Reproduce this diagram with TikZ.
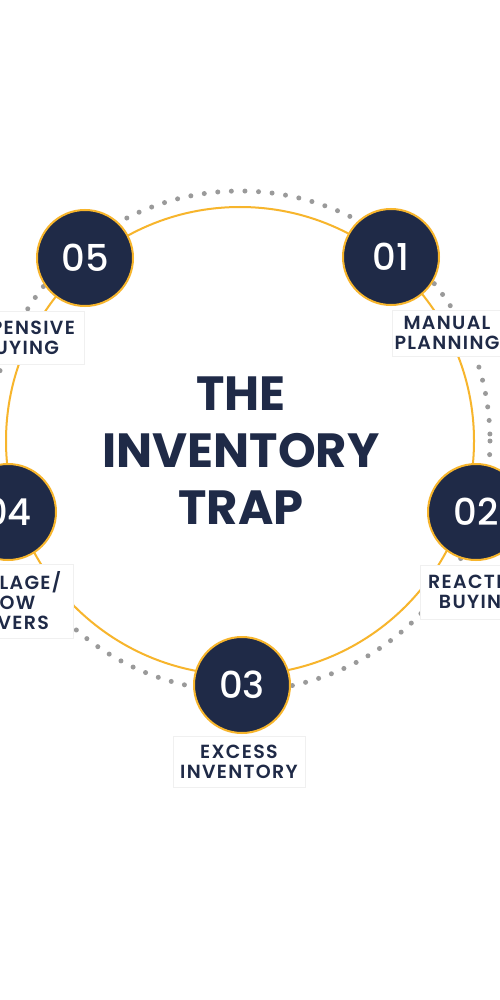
\documentclass[tikz,border=0pt]{standalone}
\usepackage{fontspec}
\setmainfont{Poppins}
\newfontfamily\pmed{Poppins Medium}
\newfontfamily\plbl{Poppins SemiBold}[LetterSpace=7]
\newfontfamily\pbold{Poppins Bold}
\definecolor{navy}{HTML}{1F2A47}
\definecolor{gold}{HTML}{F7B52C}
\definecolor{dotgray}{HTML}{9A9A9A}
\begin{document}
\begin{tikzpicture}[x=1pt,y=-1pt,
  stepnum/.style={circle, fill=navy, draw=gold, line width=2pt, minimum size=96pt,
    inner sep=0pt, text=white, font=\pmed\fontsize{37}{37}\selectfont},
  lbl/.style={fill=white, draw=gray!12, line width=0.6pt, text=navy, align=center,
    font=\plbl\fontsize{19}{20}\selectfont, inner sep=0pt},
  ring/.style={draw=gold, line width=2pt},
  dotring/.style={draw=dotgray, line width=5pt, line cap=round, dash pattern=on 0pt off 13.6pt},
  titletext/.style={text=navy, align=center, font=\pbold\fontsize{48}{57}\selectfont}]
\useasboundingbox (0,0) rectangle (500,1000);
\clip (0,0) rectangle (500,1000);
\fill[white] (0,0) rectangle (500,1000);
\coordinate (c) at (240,441);
\draw[ring] (c) circle[radius=234];
\draw[dotring] (c) circle[radius=250];
% labels
\node[lbl, minimum width=110pt, minimum height=46pt] (l1) at (447,333) {MANUAL\\PLANNING};
\node[lbl, minimum width=116pt, minimum height=54pt] (l2) at (478,592) {REACTIVE\\BUYING};
\node[lbl, minimum width=132pt, minimum height=51pt] (l3) at (239,762) {EXCESS\\INVENTORY};
\node[lbl, minimum width=134pt, minimum height=74pt] (l4) at (6,601) {SPOILAGE/\\SLOW\\MOVERS};
\node[lbl, minimum width=128pt, minimum height=53pt] (l5) at (20,338) {EXPENSIVE\\BUYING};
% steps
\node[stepnum] (n1) at (391,257) {01};
\node[stepnum] (n2) at (476,512) {02};
\node[stepnum] (n3) at (242,685) {03};
\node[stepnum] (n4) at (8,512) {04};
\node[stepnum] (n5) at (85,258) {05};
% title
\node[titletext] (title) at (241,451) {THE\\INVENTORY\\TRAP};
\end{tikzpicture}
\end{document}
